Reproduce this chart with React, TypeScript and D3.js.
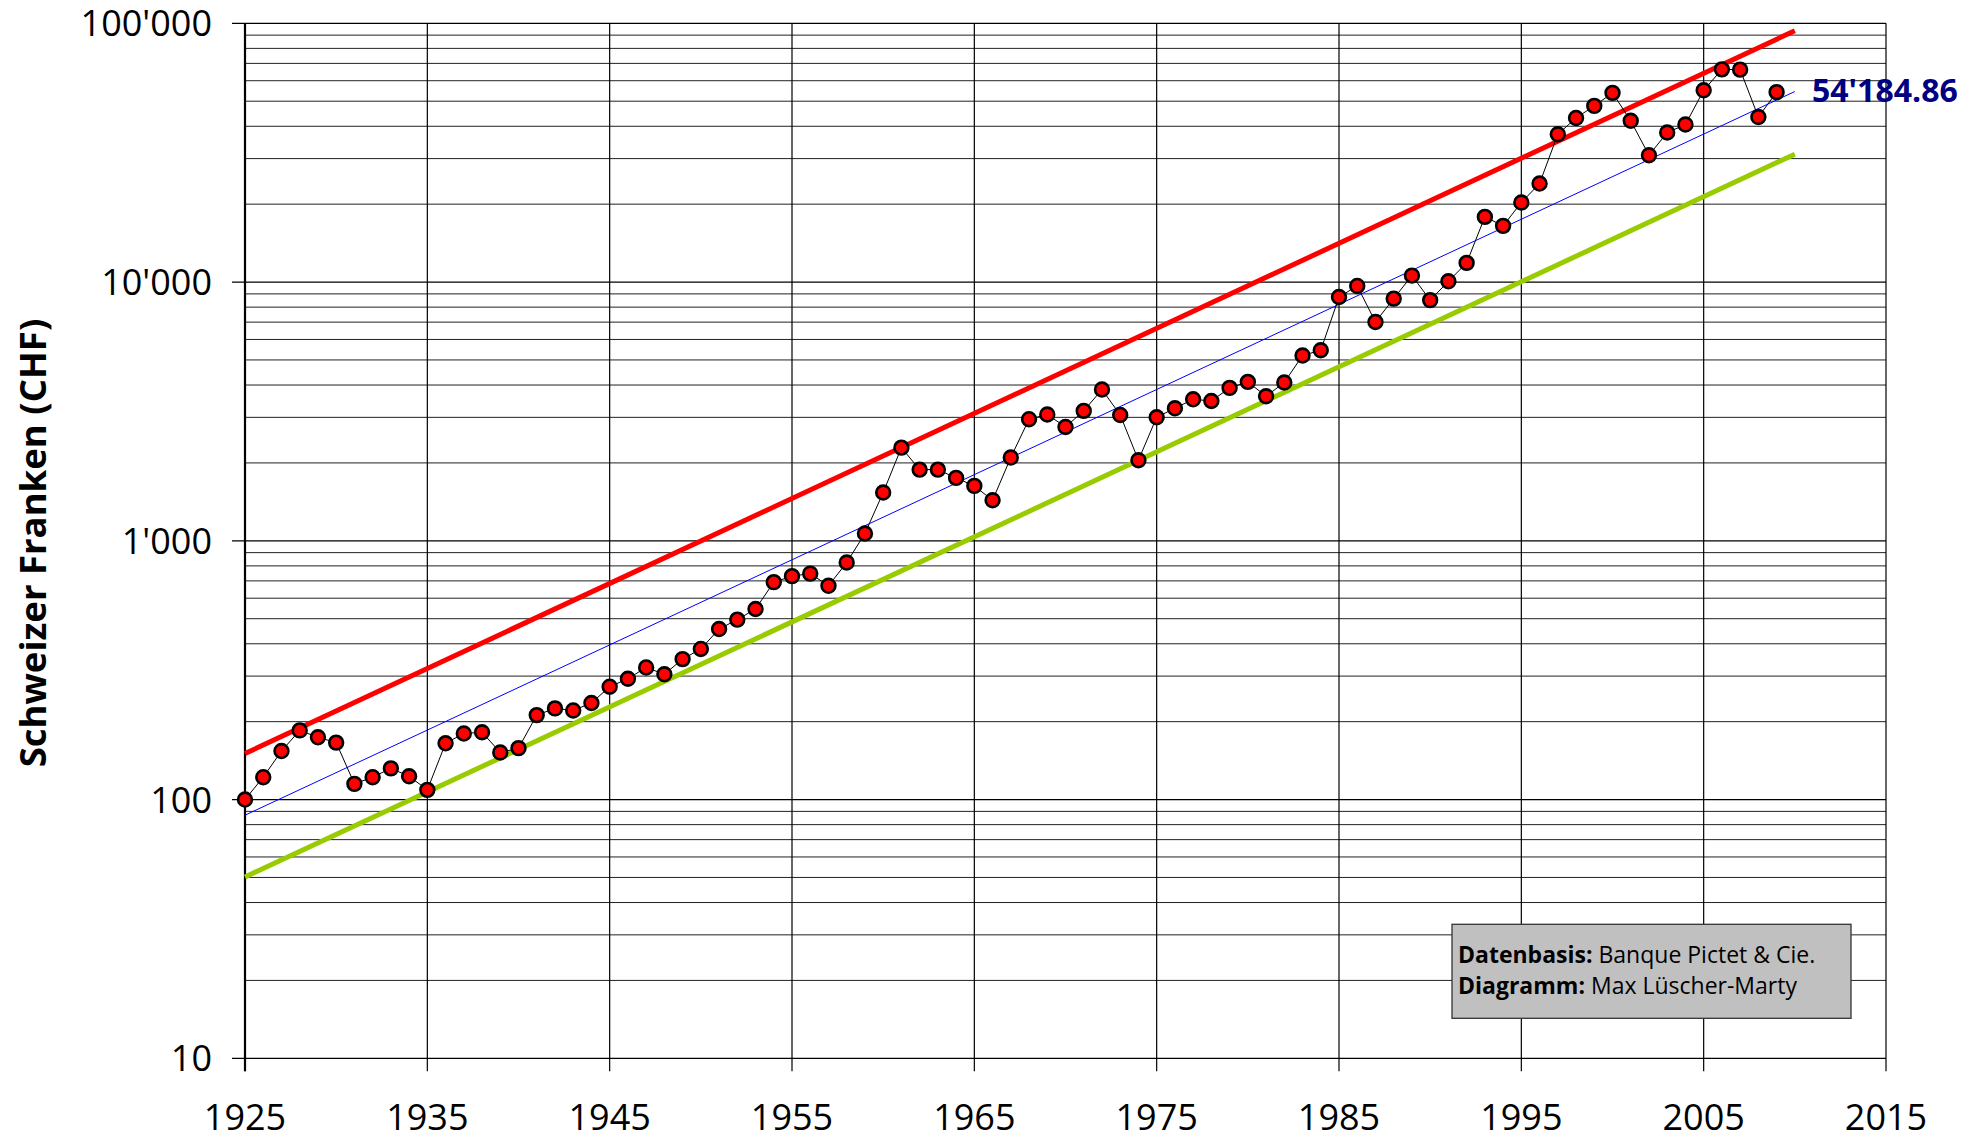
import React from "react";
import * as d3 from "d3";

const years: number[] = d3.range(1925, 2010);
const values: number[] = [
  100, 122, 154, 185, 174, 166, 115, 122, 132, 123,
  109, 165, 180, 182, 152, 158, 212, 225, 221, 236,
  273, 293, 324, 305, 349, 382, 456, 496, 545, 692,
  730, 747, 670, 824, 1067, 1536, 2291, 1884, 1884, 1750,
  1630, 1434, 2099, 2951, 3077, 2754, 3177, 3843, 3065, 2048,
  3003, 3252, 3522, 3470, 3899, 4113, 3620, 4091, 5202, 5450,
  8754, 9657, 7012, 8629, 10593, 8511, 10066, 11858, 17860, 16490,
  20290, 24030, 37250, 43070, 47950, 53830, 41990, 30910, 37820, 40610,
  55090, 66380, 66200, 43430, 54184.86,
];
const trendYears: number[] = [1925, 2010];
const upperBand: number[] = [150.6, 93600];
const trend: number[] = [87, 54500];
const lowerBand: number[] = [50.2, 31200];
const xTicks: number[] = [1925, 1935, 1945, 1955, 1965, 1975, 1985, 1995, 2005, 2015];
const yTicks: number[] = [10, 100, 1000, 10000, 100000];
const yTitle = "Schweizer Franken (CHF)";
const noteLines: [string, string][] = [
  ["Datenbasis:", " Banque Pictet & Cie."],
  ["Diagramm:", " Max Lüscher-Marty"],
];

const W = 1980;
const H = 1138;
const left = 245;
const right = 1886;
const top = 23.3;
const bottom = 1058.3;

const loc = d3.formatLocale({ decimal: ".", thousands: "'", grouping: [3], currency: ["", ""] });
const fmtInt = loc.format(",");
const fmtVal = loc.format(",.2f");

export default function App() {
  const x = d3.scaleLinear().domain([1925, 2015]).range([left, right]);
  const y = d3.scaleLog().domain([10, 100000]).range([bottom, top]);

  const minor: number[] = [];
  for (let e = 1; e < 5; e++) {
    for (let k = 2; k <= 9; k++) minor.push(k * Math.pow(10, e));
  }

  const line = d3
    .line<number>()
    .x((_, i) => x(years[i]))
    .y((d) => y(d));
  const tline = d3
    .line<number>()
    .x((_, i) => x(trendYears[i]))
    .y((d) => y(d));

  const font = "'Open Sans', 'Noto Sans', sans-serif";
  const lastVal = values[values.length - 1];

  return (
    <div style={{ position: "absolute", left: 0, top: 0 }}>
      <svg width={W} height={H} style={{ display: "block", background: "#fff" }}>
        {/* minor horizontal grid */}
        {minor.map((v) => (
          <line key={"m" + v} x1={left} x2={right} y1={y(v)} y2={y(v)} stroke="#222" strokeWidth={1} />
        ))}
        {/* major horizontal grid */}
        {yTicks.map((v) => (
          <line key={"M" + v} x1={left - 13} x2={right} y1={y(v)} y2={y(v)} stroke="#000" strokeWidth={1.2} />
        ))}
        {/* vertical grid */}
        {xTicks.map((t) => (
          <line key={"v" + t} x1={x(t)} x2={x(t)} y1={top} y2={bottom + 13} stroke="#000" strokeWidth={1.2} />
        ))}
        <line x1={left} x2={left} y1={top} y2={bottom + 13} stroke="#000" strokeWidth={2.2} />

        {/* y tick labels */}
        {yTicks.map((v) => (
          <text key={"yl" + v} x={212} y={y(v)} dy="0.36em" textAnchor="end" fontFamily={font} fontSize={36} fill="#000">
            {fmtInt(v)}
          </text>
        ))}
        {/* x tick labels */}
        {xTicks.map((t) => (
          <text key={"xl" + t} x={x(t)} y={1130} textAnchor="middle" fontFamily={font} fontSize={36} fill="#000">
            {t}
          </text>
        ))}

        {/* y title */}
        <text
          transform={`translate(46,543) rotate(-90)`}
          textAnchor="middle"
          fontFamily={font}
          fontWeight="bold"
          fontSize={36.5}
          fill="#000"
        >
          {yTitle}
        </text>

        {/* trend bands */}
        <path d={tline(upperBand) || ""} fill="none" stroke="#ff0000" strokeWidth={5} />
        <path d={tline(lowerBand) || ""} fill="none" stroke="#99cc00" strokeWidth={5} />
        <path d={tline(trend) || ""} fill="none" stroke="#0000ff" strokeWidth={1} />

        {/* data */}
        <path d={line(values) || ""} fill="none" stroke="#000" strokeWidth={1} />
        {values.map((v, i) => (
          <circle key={"c" + i} cx={x(years[i])} cy={y(v)} r={6.9} fill="#ff0000" stroke="#000" strokeWidth={2.6} />
        ))}

        {/* last value label */}
        <text x={1812} y={101.7} fontFamily={font} fontWeight="bold" fontSize={32} fill="#000080">
          {fmtVal(lastVal)}
        </text>

        {/* note box */}
        <rect x={1452} y={924.3} width={399} height={94} fill="#c0c0c0" stroke="#333" strokeWidth={1.3} />
        {noteLines.map((ln, i) => (
          <text key={"n" + i} x={1458} y={963.3 + i * 31} fontFamily={font} fontSize={23} fill="#000">
            <tspan fontWeight="bold">{ln[0]}</tspan>
            <tspan>{ln[1]}</tspan>
          </text>
        ))}
      </svg>
    </div>
  );
}
